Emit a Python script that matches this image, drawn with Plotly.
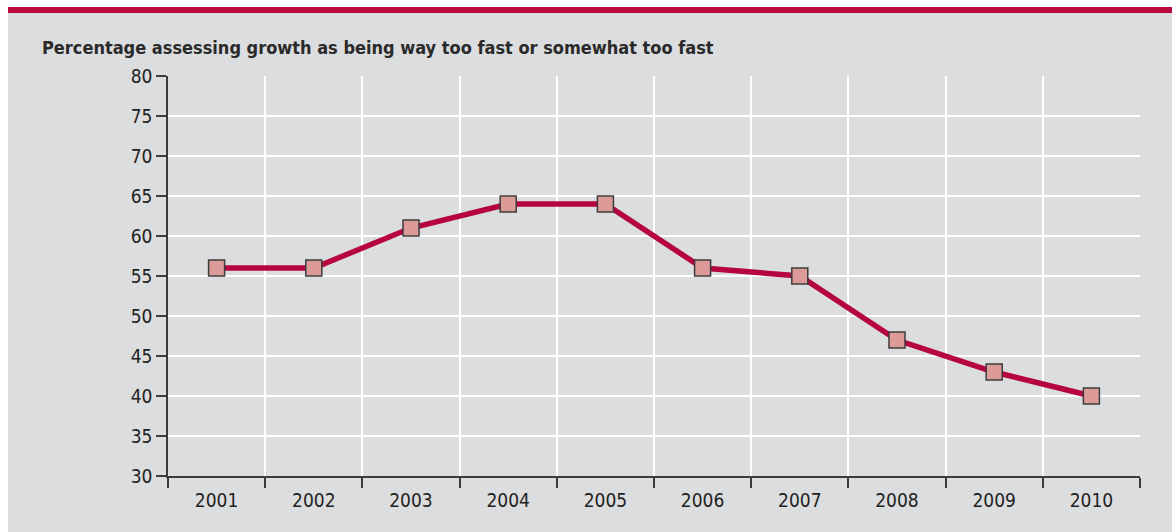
import plotly.graph_objects as go

years = ["2001", "2002", "2003", "2004", "2005", "2006", "2007", "2008", "2009", "2010"]
share_too_fast = [56, 56, 61, 64, 64, 56, 55, 47, 43, 40]
y_ticks = [30, 35, 40, 45, 50, 55, 60, 65, 70, 75, 80]

title_text = "Percentage assessing growth as being way too fast or somewhat too fast"

BG = "#dcdddf"
LINE_RED = "#b5053c"
MARKER_FILL = "#dc9a99"
AXIS_DARK = "#3c3c3c"
FONT = "Liberation Sans Narrow, DejaVu Sans Condensed, Arial Narrow, sans-serif"

fig = go.Figure()
fig.add_trace(go.Scatter(
    x=years,
    y=share_too_fast,
    mode="lines+markers",
    line=dict(color=LINE_RED, width=5.5),
    marker=dict(symbol="square", size=16, color=MARKER_FILL,
                line=dict(color=AXIS_DARK, width=1.5)),
    cliponaxis=False,
    hoverinfo="x+y",
))

fig.update_layout(
    width=1172,
    height=532,
    margin=dict(l=168, r=32, t=76, b=56),
    paper_bgcolor=BG,
    plot_bgcolor=BG,
    showlegend=False,
    font=dict(family=FONT, size=19, color="#222222"),
    xaxis=dict(
        type="category",
        tickson="boundaries",
        range=[-0.5, 9.5],
        showgrid=True,
        gridcolor="white",
        gridwidth=1.5,
        ticks="outside",
        ticklen=10,
        tickwidth=1.5,
        tickcolor=AXIS_DARK,
        showline=True,
        linecolor=AXIS_DARK,
        linewidth=1.5,
        zeroline=False,
        ticklabelstandoff=6,
        tickfont=dict(family=FONT, size=19, color="#222222"),
    ),
    yaxis=dict(
        range=[30, 80],
        tickvals=y_ticks,
        showgrid=True,
        gridcolor="white",
        gridwidth=1.5,
        ticks="outside",
        ticklen=10,
        tickwidth=1.5,
        tickcolor=AXIS_DARK,
        showline=True,
        linecolor=AXIS_DARK,
        linewidth=1.5,
        zeroline=False,
        tickfont=dict(family=FONT, size=19, color="#222222"),
    ),
    shapes=[
        # white strip along the top and left edge of the panel
        dict(type="rect", xref="paper", yref="paper",
             x0=-0.175, x1=1.04, y0=1.1725, y1=1.2,
             fillcolor="white", line=dict(width=0), layer="below"),
        dict(type="rect", xref="paper", yref="paper",
             x0=-0.175, x1=-0.16461, y0=-0.15, y1=1.2,
             fillcolor="white", line=dict(width=0), layer="below"),
        # red rule across the top
        dict(type="rect", xref="paper", yref="paper",
             x0=-0.16461, x1=1.04, y0=1.1575, y1=1.1725,
             fillcolor="#b90b3e", line=dict(width=0), layer="below"),
    ],
    annotations=[
        dict(text="<b>" + title_text + "</b>", xref="paper", yref="paper",
             x=-0.1317, y=1.0725, xanchor="left", yanchor="middle",
             showarrow=False,
             font=dict(family=FONT, size=18, color="#2a2a2a")),
    ],
)

fig.write_html("out.html")
